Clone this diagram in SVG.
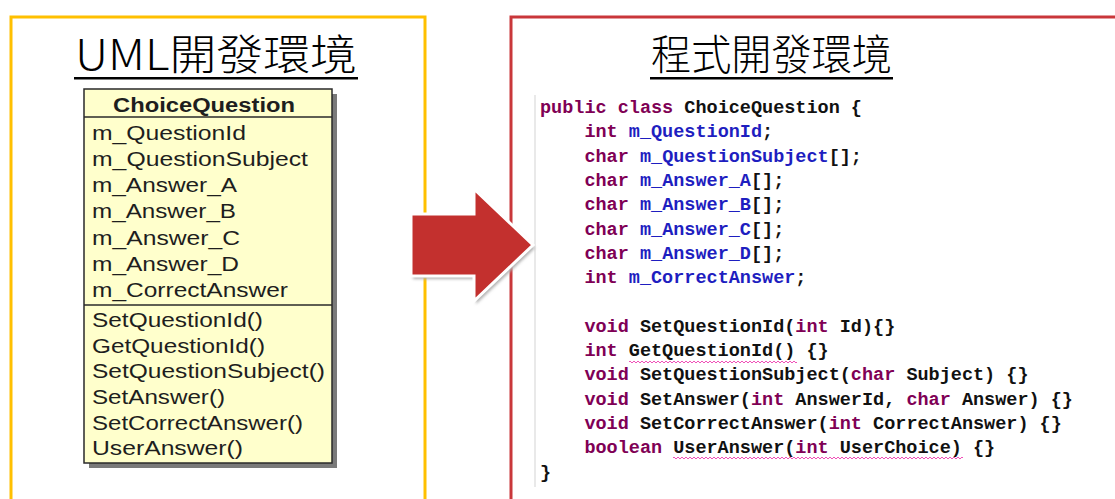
<svg xmlns="http://www.w3.org/2000/svg" width="1115" height="499" viewBox="0 0 1115 499">
<style>
.title{font-family:"Noto Sans CJK TC","Noto Sans CJK SC",sans-serif;font-weight:300;font-size:42px;fill:#000}
.uml{font-family:"Liberation Sans",Arial,sans-serif;font-size:20px;fill:#1e1e1e}
.umlh{font-family:"Liberation Sans",Arial,sans-serif;font-size:20px;font-weight:bold;fill:#1e1e1e}
.code text{font-family:"Liberation Mono","Courier New",monospace;font-size:18.5px;fill:#111;font-weight:bold;white-space:pre}
.kw{fill:#7F0055}
.fd{fill:#1E1EC0}
</style>
<defs>
<pattern id="squig" x="0" y="0" width="4" height="4" patternUnits="userSpaceOnUse">
<path d="M0,3 L2,1 L4,3" fill="none" stroke="#F050B8" stroke-width="1"/>
</pattern>
<filter id="sh" x="-20%" y="-20%" width="140%" height="140%">
<feGaussianBlur stdDeviation="1.5"/>
</filter>
</defs>
<rect width="1115" height="499" fill="#fff"/>

<g id="panel-uml">
<rect x="11" y="17" width="414" height="500" fill="none" stroke="#FFC000" stroke-width="3"/>
<text class="title" x="75" y="70" textLength="282" lengthAdjust="spacingAndGlyphs">UML開發環境</text>
<rect x="74" y="77" width="284" height="2.5" fill="#000"/>
</g>

<g id="panel-code">
<rect x="511" y="17" width="620" height="500" fill="none" stroke="#C9373A" stroke-width="3"/>
<text class="title" x="651" y="70" textLength="241" lengthAdjust="spacingAndGlyphs">程式開發環境</text>
<rect x="650" y="77" width="243" height="2.5" fill="#000"/>
<line x1="535" y1="95" x2="535" y2="487" stroke="#e2e2e2" stroke-width="1.5"/>
<g class="code">
<text x="540" y="113"><tspan class="kw">public class</tspan> ChoiceQuestion {</text>
<text x="584.4" y="137.3"><tspan class="kw">int</tspan> <tspan class="fd">m_QuestionId</tspan>;</text>
<text x="584.4" y="161.6"><tspan class="kw">char</tspan> <tspan class="fd">m_QuestionSubject</tspan>[];</text>
<text x="584.4" y="185.9"><tspan class="kw">char</tspan> <tspan class="fd">m_Answer_A</tspan>[];</text>
<text x="584.4" y="210.2"><tspan class="kw">char</tspan> <tspan class="fd">m_Answer_B</tspan>[];</text>
<text x="584.4" y="234.5"><tspan class="kw">char</tspan> <tspan class="fd">m_Answer_C</tspan>[];</text>
<text x="584.4" y="258.8"><tspan class="kw">char</tspan> <tspan class="fd">m_Answer_D</tspan>[];</text>
<text x="584.4" y="283.1"><tspan class="kw">int</tspan> <tspan class="fd">m_CorrectAnswer</tspan>;</text>
<text x="584.4" y="331.7"><tspan class="kw">void</tspan> SetQuestionId(<tspan class="kw">int</tspan> Id){}</text>
<text x="584.4" y="356"><tspan class="kw">int</tspan> GetQuestionId() {}</text>
<text x="584.4" y="380.3"><tspan class="kw">void</tspan> SetQuestionSubject(<tspan class="kw">char</tspan> Subject) {}</text>
<text x="584.4" y="404.6"><tspan class="kw">void</tspan> SetAnswer(<tspan class="kw">int</tspan> AnswerId, <tspan class="kw">char</tspan> Answer) {}</text>
<text x="584.4" y="428.9"><tspan class="kw">void</tspan> SetCorrectAnswer(<tspan class="kw">int</tspan> CorrectAnswer) {}</text>
<text x="584.4" y="453.2"><tspan class="kw">boolean</tspan> UserAnswer(<tspan class="kw">int</tspan> UserChoice) {}</text>
<text x="540" y="477.5">}</text>
</g>
<rect x="629" y="359" width="168" height="4" fill="url(#squig)"/>
<rect x="673" y="456" width="290" height="4" fill="url(#squig)"/>
</g>

<g id="uml-class">
<rect x="89" y="94" width="248" height="374" fill="#7a7a7a"/>
<rect x="84" y="89" width="248" height="374" fill="#FFFFCC" stroke="#2a2a2a" stroke-width="1.5"/>
<line x1="84" y1="117" x2="332" y2="117" stroke="#2a2a2a" stroke-width="1.5"/>
<line x1="84" y1="305" x2="332" y2="305" stroke="#2a2a2a" stroke-width="1.5"/>
<text class="umlh" x="113" y="112" textLength="182" lengthAdjust="spacingAndGlyphs">ChoiceQuestion</text>
<text class="uml" x="92" y="140" textLength="154" lengthAdjust="spacingAndGlyphs">m_QuestionId</text>
<text class="uml" x="92" y="166" textLength="216" lengthAdjust="spacingAndGlyphs">m_QuestionSubject</text>
<text class="uml" x="92" y="192" textLength="145" lengthAdjust="spacingAndGlyphs">m_Answer_A</text>
<text class="uml" x="92" y="218" textLength="144" lengthAdjust="spacingAndGlyphs">m_Answer_B</text>
<text class="uml" x="92" y="245" textLength="148" lengthAdjust="spacingAndGlyphs">m_Answer_C</text>
<text class="uml" x="92" y="271" textLength="147" lengthAdjust="spacingAndGlyphs">m_Answer_D</text>
<text class="uml" x="92" y="297" textLength="196" lengthAdjust="spacingAndGlyphs">m_CorrectAnswer</text>
<text class="uml" x="92" y="327" textLength="171" lengthAdjust="spacingAndGlyphs">SetQuestionId()</text>
<text class="uml" x="92" y="353" textLength="173" lengthAdjust="spacingAndGlyphs">GetQuestionId()</text>
<text class="uml" x="92" y="378" textLength="233" lengthAdjust="spacingAndGlyphs">SetQuestionSubject()</text>
<text class="uml" x="92" y="404" textLength="133" lengthAdjust="spacingAndGlyphs">SetAnswer()</text>
<text class="uml" x="92" y="430" textLength="211" lengthAdjust="spacingAndGlyphs">SetCorrectAnswer()</text>
<text class="uml" x="92" y="455" textLength="151" lengthAdjust="spacingAndGlyphs">UserAnswer()</text>
</g>

<g id="connectors">
<polygon points="413,217 476,217 476,192 535,248 476,304 476,279 413,279" fill="#b0b0b0" filter="url(#sh)"/>
<polygon points="411,214 474,214 474,189 533,245 474,301 474,276 411,276" fill="#C3302E" stroke="#fff" stroke-width="3" stroke-linejoin="miter"/>
</g>
</svg>
